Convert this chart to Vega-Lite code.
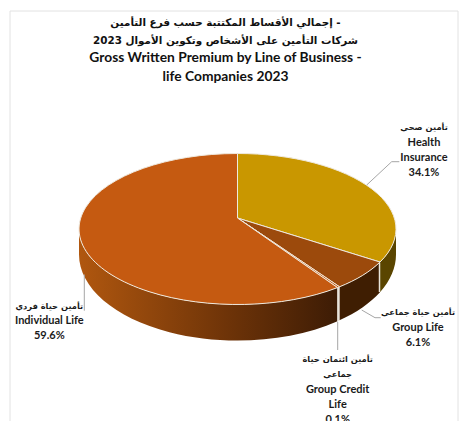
{
"$schema":"https://vega.github.io/schema/vega-lite/v6.json",
"width":465,"height":421,"padding":0,"autosize":"none",
"background":"white","view":{"stroke":null},
"resolve":{"scale":{"shape":"independent"}},
"data":{"values":[
{"slice":"Health Insurance","share":34.1,"ar":["تأمين صحي"],"en":["Health","Insurance","34.1%"]},
{"slice":"Group Life","share":6.1,"ar":["تأمين حياة جماعي"],"en":["Group Life","6.1%"]},
{"slice":"Group Credit Life","share":0.1,"ar":["تأمين ائتمان حياة","جماعي"],"en":["Group Credit","Life","0.1%"]},
{"slice":"Individual Life","share":59.6,"ar":["تأمين حياة فردي"],"en":["Individual Life","59.6%"]}
]},
"layer":[
{"data":{"values":[{"element":"frame"}]},
 "mark":{"type":"point","filled":false,"size":4,"stroke":"#e2e2e2","strokeWidth":1,"opacity":1,"shape":"M-222.5 215 V-199.5 H225.5 V215"},"encoding":{}},
{"transform":[{"filter":"datum.slice==='Individual Life'"}],
 "mark":{"type":"point","filled":true,"size":4,"opacity":1,"strokeWidth":0,
 "shape":"M-153.5 18.5 A158.5 75.5 0 0 0 105 77.1 L105 110.7 A158.5 86 0 0 1 -153.5 44 Z",
 "fill":{"gradient":"linear","x1":0,"y1":0,"x2":1,"y2":0,"stops":[{"offset":0,"color":"#b0570f"},{"offset":0.6,"color":"#6b3208"},{"offset":1,"color":"#3d1c05"}]}},"encoding":{}},
{"transform":[{"filter":"datum.slice==='Group Life'"}],
 "mark":{"type":"point","filled":true,"size":4,"opacity":1,"strokeWidth":0,"fill":"#3f1e02",
 "shape":"M107 76.3 A158.5 75.5 0 0 0 147.5 51.56 L147.5 81.7 A158.5 86 0 0 1 107 109.8 Z"},"encoding":{}},
{"transform":[{"filter":"datum.slice==='Health Insurance'"}],
 "mark":{"type":"point","filled":true,"size":4,"opacity":1,"strokeWidth":0,"fill":"#5a4500",
 "shape":"M147.5 51.56 A158.5 75.5 0 0 0 163.5 18.5 L163.5 44 A158.5 86 0 0 1 147.5 81.7 Z"},"encoding":{}},
{"transform":[{"filter":"datum.slice==='Group Credit Life'"}],
 "mark":{"type":"point","filled":false,"size":4,"opacity":1,"stroke":"#e9e4da","strokeWidth":2,"shape":"M105.8 77 V110.5"},"encoding":{}},
{"transform":[{"filter":"datum.slice==='Group Life'"}],
 "mark":{"type":"point","filled":false,"size":4,"opacity":1,"stroke":"#e9e4da","strokeWidth":1.5,"shape":"M147 52 V81.5"},"encoding":{}},
{"mark":{"type":"point","filled":true,"size":4,"opacity":1,"stroke":"#efe9de","strokeWidth":1},
 "encoding":{
  "color":{"field":"slice","type":"nominal","legend":null,"scale":{"domain":["Health Insurance","Group Life","Group Credit Life","Individual Life"],"range":["#c99700","#9c4a0c","#c55a11","#c55a11"]}},
  "shape":{"field":"slice","type":"nominal","legend":null,"scale":{"domain":["Health Insurance","Group Life","Group Credit Life","Individual Life"],"range":[
   "M5 7.5 L5 -57 A158.5 75.5 0 0 1 147.5 51.56 Z",
   "M5 7.5 L147.5 51.56 A158.5 75.5 0 0 1 107 76.3 Z",
   "M5 7.5 L107 76.3 A158.5 75.5 0 0 1 105 77.1 Z",
   "M5 7.5 L105 77.1 A158.5 75.5 0 1 1 5 -57 Z"]}},
  "tooltip":{"field":"share","type":"quantitative"}}},
{"mark":{"type":"point","filled":false,"size":4,"opacity":1,"stroke":"#a6a6a6","strokeWidth":1},
 "encoding":{
  "shape":{"field":"slice","type":"nominal","legend":null,"scale":{"domain":["Health Insurance","Group Life","Group Credit Life","Individual Life"],"range":[
   "M134.2 -25.5 L159.2 -48.8 H166.8",
   "M129.2 99.5 L142.5 107.2 H148.2",
   "M105.2 111.5 V139.5",
   "M-148.2 64 V100.2"]}}}},
{"data":{"values":[{"lines":["إجمالي الأقساط المكتتبة حسب فرع التأمين -","شركات التأمين على الأشخاص وتكوين الأموال  2023"]}]},
 "mark":{"type":"text","font":"DejaVu Sans","fontWeight":"bold","fontSize":10.4,"lineHeight":17.7,"align":"center","baseline":"middle","color":"#111111","dx":-7,"dy":-187.5},
 "encoding":{"text":{"field":"lines"}}},
{"data":{"values":[{"lines":["Gross Written Premium by Line of Business -","life Companies 2023"]}]},
 "mark":{"type":"text","font":"Lato","fontWeight":"bold","fontSize":13.8,"lineHeight":18.7,"align":"center","baseline":"middle","color":"#111111","dx":-7,"dy":-152.5},
 "encoding":{"text":{"field":"lines"}}},
{"transform":[{"filter":"datum.slice==='Health Insurance'"}],
 "mark":{"type":"text","font":"DejaVu Sans","fontWeight":"bold","fontSize":8.3,"align":"center","baseline":"middle","color":"#1a1a1a","dx":191.5,"dy":-82.2},
 "encoding":{"text":{"field":"ar"}}},
{"transform":[{"filter":"datum.slice==='Health Insurance'"}],
 "mark":{"type":"text","font":"Lato","fontWeight":"bold","fontSize":11,"lineHeight":15,"align":"center","baseline":"middle","color":"#1a1a1a","dx":191.5,"dy":-67.5},
 "encoding":{"text":{"field":"en"}}},
{"transform":[{"filter":"datum.slice==='Group Life'"}],
 "mark":{"type":"text","font":"DejaVu Sans","fontWeight":"bold","fontSize":8.3,"align":"center","baseline":"middle","color":"#1a1a1a","dx":185.5,"dy":102.5},
 "encoding":{"text":{"field":"ar"}}},
{"transform":[{"filter":"datum.slice==='Group Life'"}],
 "mark":{"type":"text","font":"Lato","fontWeight":"bold","fontSize":11,"lineHeight":15,"align":"center","baseline":"middle","color":"#1a1a1a","dx":185.5,"dy":117.5},
 "encoding":{"text":{"field":"en"}}},
{"transform":[{"filter":"datum.slice==='Group Credit Life'"}],
 "mark":{"type":"text","font":"DejaVu Sans","fontWeight":"bold","fontSize":8.3,"lineHeight":15,"align":"center","baseline":"middle","color":"#1a1a1a","dx":105.2,"dy":149.5},
 "encoding":{"text":{"field":"ar"}}},
{"transform":[{"filter":"datum.slice==='Group Credit Life'"}],
 "mark":{"type":"text","font":"Lato","fontWeight":"bold","fontSize":11,"lineHeight":14.8,"align":"center","baseline":"middle","color":"#1a1a1a","dx":105.2,"dy":179.5},
 "encoding":{"text":{"field":"en"}}},
{"transform":[{"filter":"datum.slice==='Individual Life'"}],
 "mark":{"type":"text","font":"DejaVu Sans","fontWeight":"bold","fontSize":8.3,"align":"center","baseline":"middle","color":"#1a1a1a","dx":-183.2,"dy":96.2},
 "encoding":{"text":{"field":"ar"}}},
{"transform":[{"filter":"datum.slice==='Individual Life'"}],
 "mark":{"type":"text","font":"Lato","fontWeight":"bold","fontSize":11,"lineHeight":15,"align":"center","baseline":"middle","color":"#1a1a1a","dx":-183.2,"dy":110.5},
 "encoding":{"text":{"field":"en"}}}
]
}
